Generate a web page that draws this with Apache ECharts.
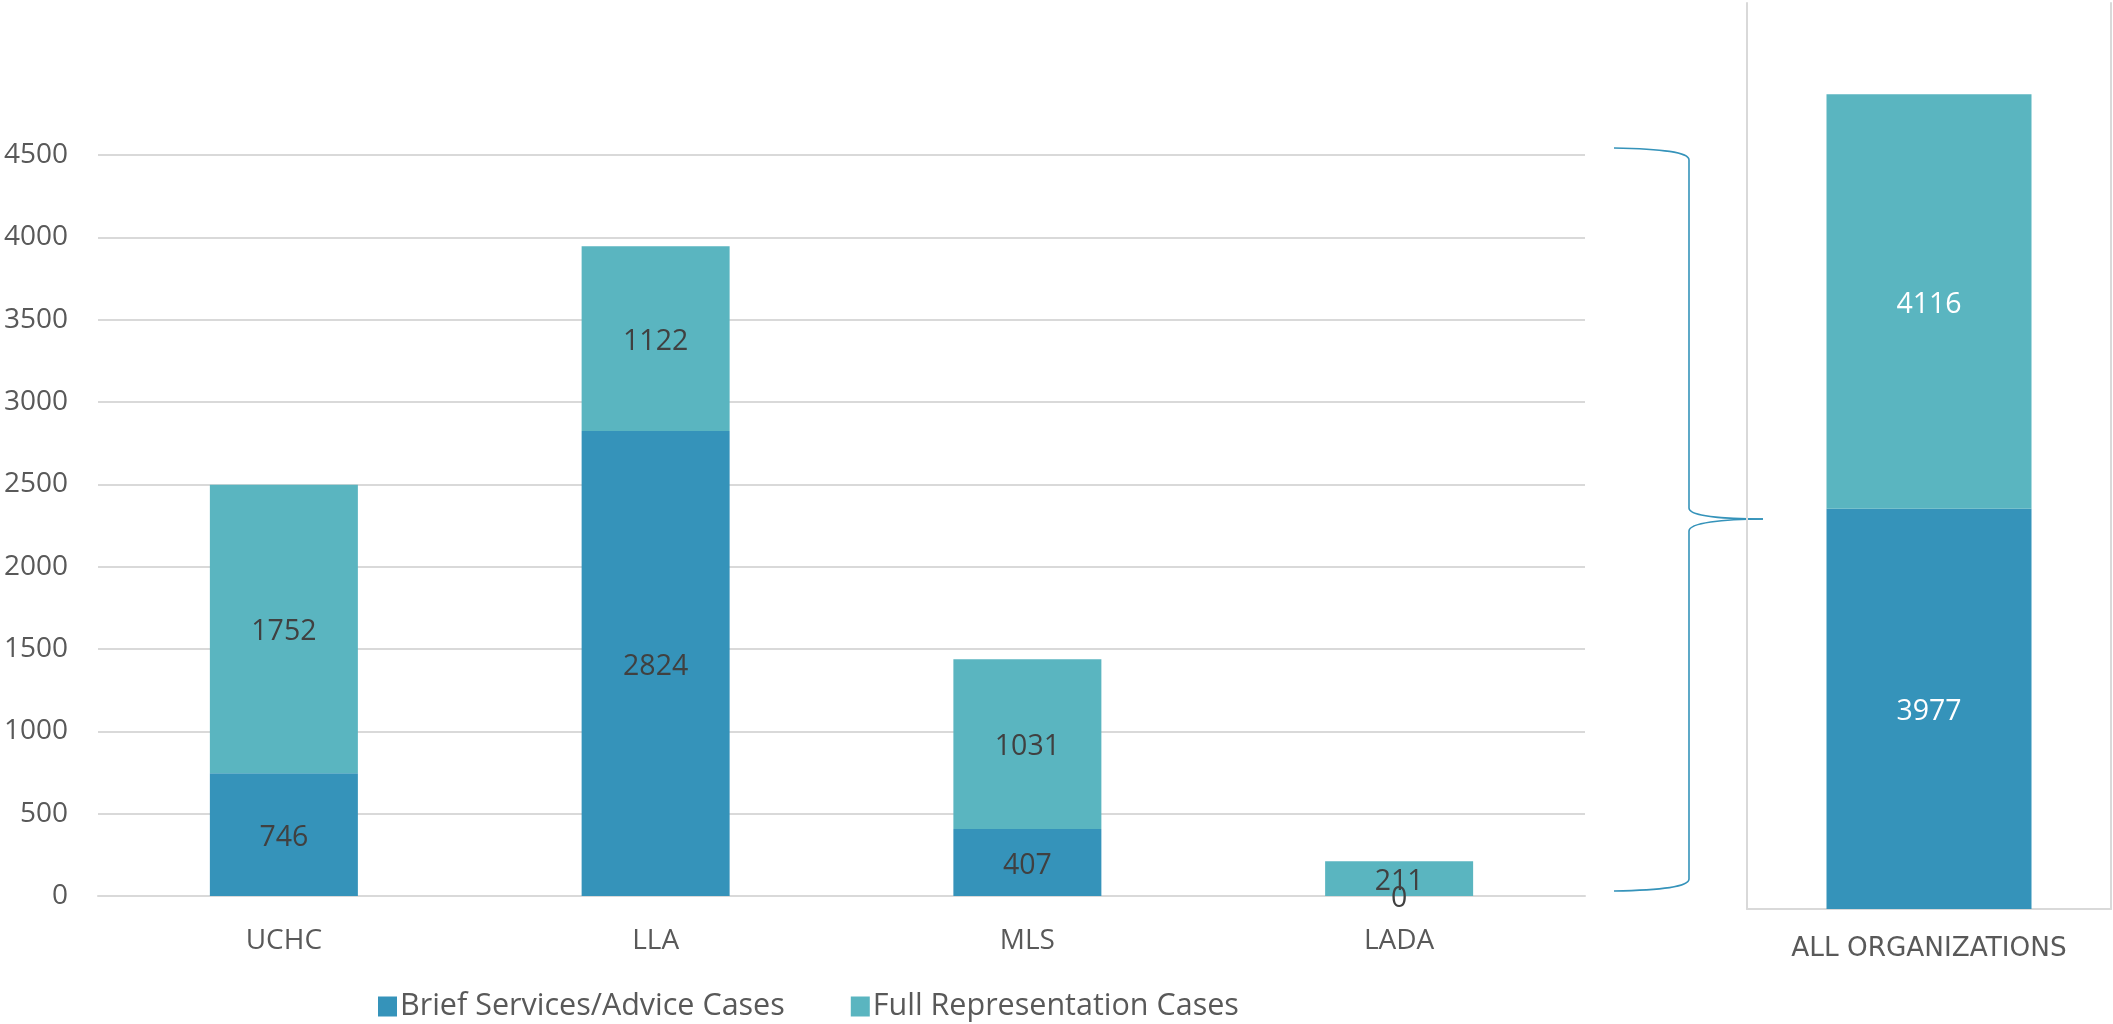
<!DOCTYPE html>
<html>
<head>
<meta charset="utf-8">
<script src="https://cdn.jsdelivr.net/npm/echarts@6/dist/echarts.min.js"></script>
<style>
  html, body { margin: 0; padding: 0; background: #ffffff; }
  #chart { width: 2113px; height: 1024px; }
</style>
</head>
<body>
<div id="chart"></div>
<script>
const categories = ['UCHC', 'LLA', 'MLS', 'LADA'];
const briefCases = [746, 2824, 407, 0];
const fullCases = [1752, 1122, 1031, 211];
const totalCategory = ['ALL ORGANIZATIONS'];
const totalBrief = [3977];
const totalFull = [4116];
const seriesNames = ['Brief Services/Advice Cases', 'Full Representation Cases'];
const yMin = 0, yMax = 4500, yInterval = 500;
const totalMax = 9000;

const FONT = 'Open Sans';
const C_BRIEF = '#3593BA';
const C_FULL = '#5AB5C0';
const AXIS_TEXT = '#595959';
const LABEL_TEXT = '#404040';
const GRID = '#D9D9D9';

const chart = echarts.init(document.getElementById('chart'));

const braceStyle = { stroke: C_BRIEF, lineWidth: 1.6, fill: null };

chart.setOption({
  animation: false,
  backgroundColor: '#ffffff',
  textStyle: { fontFamily: FONT },
  legend: {
    data: seriesNames,
    left: 373,
    top: 986,
    icon: 'rect',
    itemWidth: 19,
    itemHeight: 20,
    itemGap: 66,
    textStyle: { color: AXIS_TEXT, fontSize: 30.5, fontFamily: FONT, padding: [0, 0, 0, -2] }
  },
  grid: [
    { left: 98, right: 528, top: 155, bottom: 128 },
    { left: 1747, right: 2, top: 3, bottom: 115 }
  ],
  xAxis: [
    {
      type: 'category', gridIndex: 0, data: categories,
      axisLine: { show: true, lineStyle: { color: GRID, width: 2 } },
      axisTick: { show: false },
      axisLabel: { color: AXIS_TEXT, fontSize: 28, margin: 31, fontFamily: FONT }
    },
    {
      type: 'category', gridIndex: 1, data: totalCategory,
      axisLine: { show: true, lineStyle: { color: GRID, width: 2 } },
      axisTick: { show: false },
      axisLabel: { color: AXIS_TEXT, fontSize: 26.3, margin: 27, fontFamily: 'DejaVu Sans' }
    }
  ],
  yAxis: [
    {
      type: 'value', gridIndex: 0, min: yMin, max: yMax, interval: yInterval,
      axisLine: { show: false }, axisTick: { show: false },
      axisLabel: { color: AXIS_TEXT, fontSize: 28, margin: 30, fontFamily: FONT, formatter: (v) => String(v) },
      splitLine: { show: true, lineStyle: { color: GRID, width: 2 } }
    },
    {
      type: 'value', gridIndex: 1, min: 0, max: totalMax,
      axisLine: { show: true, lineStyle: { color: GRID, width: 2 } },
      axisTick: { show: false }, axisLabel: { show: false },
      splitLine: { show: false }
    },
    {
      type: 'value', gridIndex: 1, min: 0, max: totalMax, position: 'right',
      axisLine: { show: true, lineStyle: { color: GRID, width: 2 } },
      axisTick: { show: false }, axisLabel: { show: false },
      splitLine: { show: false }
    }
  ],
  series: [
    {
      name: seriesNames[0], type: 'bar', stack: 'a', xAxisIndex: 0, yAxisIndex: 0,
      data: briefCases, barWidth: 148,
      itemStyle: { color: C_BRIEF },
      label: { show: true, position: 'inside', color: LABEL_TEXT, fontSize: 28.5, fontFamily: FONT, offset: [0, 3] }
    },
    {
      name: seriesNames[1], type: 'bar', stack: 'a', xAxisIndex: 0, yAxisIndex: 0,
      data: fullCases, barWidth: 148,
      itemStyle: { color: C_FULL },
      label: { show: true, position: 'inside', color: LABEL_TEXT, fontSize: 28.5, fontFamily: FONT, offset: [0, 3] }
    },
    {
      name: seriesNames[0], type: 'bar', stack: 'b', xAxisIndex: 1, yAxisIndex: 1,
      data: totalBrief, barWidth: 205,
      itemStyle: { color: C_BRIEF },
      label: { show: true, position: 'inside', color: '#ffffff', fontSize: 28.5, fontFamily: FONT, offset: [0, 3] }
    },
    {
      name: seriesNames[1], type: 'bar', stack: 'b', xAxisIndex: 1, yAxisIndex: 1,
      data: totalFull, barWidth: 205,
      itemStyle: { color: C_FULL },
      label: { show: true, position: 'inside', color: '#ffffff', fontSize: 28.5, fontFamily: FONT, offset: [0, 3] }
    }
  ],
  graphic: [
    { type: 'bezierCurve', shape: { x1: 1614, y1: 148, cpx1: 1662, cpy1: 149, cpx2: 1689, cpy2: 152, x2: 1689, y2: 160 }, style: braceStyle, silent: true },
    { type: 'line', shape: { x1: 1689, y1: 160, x2: 1689, y2: 508 }, style: braceStyle, silent: true },
    { type: 'bezierCurve', shape: { x1: 1689, y1: 508, cpx1: 1689, cpy1: 516, cpx2: 1722, cpy2: 519, x2: 1763, y2: 519 }, style: braceStyle, silent: true },
    { type: 'bezierCurve', shape: { x1: 1763, y1: 519, cpx1: 1722, cpy1: 519, cpx2: 1689, cpy2: 523, x2: 1689, y2: 531 }, style: braceStyle, silent: true },
    { type: 'line', shape: { x1: 1689, y1: 531, x2: 1689, y2: 879 }, style: braceStyle, silent: true },
    { type: 'bezierCurve', shape: { x1: 1689, y1: 879, cpx1: 1689, cpy1: 887, cpx2: 1662, cpy2: 890, x2: 1614, y2: 891 }, style: braceStyle, silent: true }
  ]
});
</script>
</body>
</html>
